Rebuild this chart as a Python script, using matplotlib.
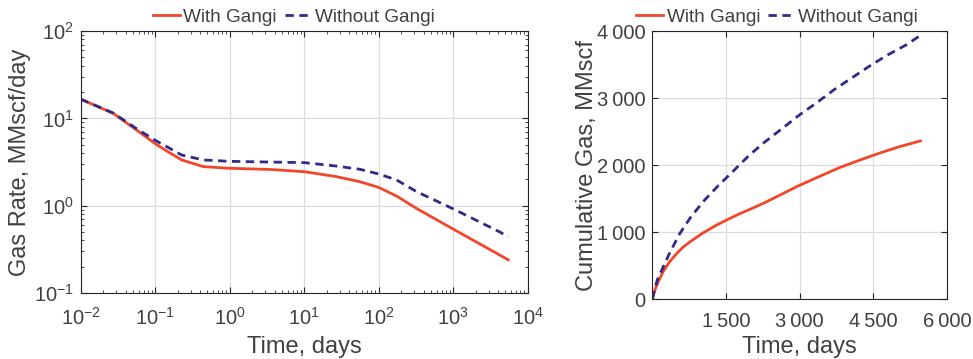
import numpy as np
import matplotlib
matplotlib.use('Agg')
import matplotlib.pyplot as plt
from matplotlib.ticker import LogLocator, NullFormatter

#--------------------------------
# rate vs time (log-log)
t_rate      = [0.01, 0.0274, 0.0564, 0.0984, 0.143, 0.227, 0.443, 1.0, 3.47, 10.1, 27.2, 56.0, 99.6, 174.0, 322.0, 1000.0, 4227.0, 5475.0]
q_gangi     = [16.6, 11.4, 7.35, 5.18, 4.23, 3.34, 2.80, 2.68, 2.60, 2.45, 2.15, 1.88, 1.62, 1.29, 0.93, 0.54, 0.272, 0.240]
q_no_gangi  = [16.6, 11.5, 7.6, 5.65, 4.74, 3.80, 3.34, 3.22, 3.16, 3.11, 2.84, 2.61, 2.31, 1.97, 1.45, 0.92, 0.50, 0.44]

# cumulative gas vs time (linear)
t_cum_g     = [0, 54, 121, 222, 357, 491, 626, 828, 1030, 1299, 1501, 1770, 2039, 2308, 2608, 2948, 3419, 3824, 4230, 4635, 5040, 5460]
g_gangi     = [0, 135, 260, 410, 560, 675, 775, 885, 985, 1100, 1175, 1270, 1355, 1445, 1555, 1680, 1835, 1965, 2075, 2180, 2275, 2360]
t_cum_n     = [0, 101, 336, 545, 794, 1063, 1333, 1649, 1972, 2275, 2600, 3000, 3338, 3703, 4081, 4419, 4784, 5162, 5460]
g_no_gangi  = [0, 285, 660, 960, 1235, 1475, 1685, 1910, 2145, 2335, 2520, 2750, 2925, 3125, 3310, 3475, 3640, 3790, 3935]

xt_cum      = [1500, 3000, 4500, 6000]
xt_cum_lbl  = ['1\u2009500', '3\u2009000', '4\u2009500', '6\u2009000']
yt_cum      = [0, 1000, 2000, 3000, 4000]
yt_cum_lbl  = ['0', '1\u2009000', '2\u2009000', '3\u2009000', '4\u2009000']

RED  = '#f2462b'
BLUE = '#302a8a'
TXT  = '#404040'
DASH = (0, (3, 2))

#--------------------------------
plt.rcParams['font.family'] = ['Liberation Sans', 'DejaVu Sans']
plt.rcParams['mathtext.fontset'] = 'custom'
plt.rcParams['mathtext.rm'] = 'Liberation Sans'
plt.rcParams['mathtext.it'] = 'Liberation Sans'
plt.rcParams['text.color'] = TXT
plt.rcParams['axes.labelcolor'] = TXT
plt.rcParams['xtick.color'] = TXT
plt.rcParams['ytick.color'] = TXT
plt.rcParams['axes.edgecolor'] = '#262626'

def style_axes(ax, xpad) :
    ax.grid(True, which='major', color='#dcdcdc', lw=0.9)
    ax.set_axisbelow(True)
    ax.tick_params(which='both', direction='in', top=True, right=True, labelsize=14.5)
    ax.tick_params(which='major', length=4, color='#262626')
    ax.tick_params(which='minor', length=2, color='#262626')
    ax.tick_params(axis='x', pad=xpad)
    ax.tick_params(axis='y', pad=5)

def add_legend(ax, x, y) :
    ax.legend(loc='center', bbox_to_anchor=(x, y), ncol=2, frameon=False,
              fontsize=13.7, handlelength=1.4, handletextpad=0.2, columnspacing=0.4,
              borderaxespad=0.0, borderpad=0.0)

fig = plt.figure(figsize=(9.73, 3.59), dpi=100, facecolor='w')

#--------------------------------
ax1 = fig.add_axes([0.0829, 0.1838, 0.4594, 0.7298])
ax1.plot(t_rate, q_gangi, color=RED, lw=2.0, label='With Gangi')
ax1.plot(t_rate, q_no_gangi, color=BLUE, lw=2.0, ls=DASH, label='Without Gangi')
ax1.set_xscale('log')
ax1.set_yscale('log')
ax1.set_xlim(1e-2, 1e4)
ax1.set_ylim(1e-1, 1e2)
ax1.xaxis.set_minor_locator(LogLocator(base=10, subs=np.arange(2, 10), numticks=20))
ax1.yaxis.set_minor_locator(LogLocator(base=10, subs=np.arange(2, 10), numticks=20))
ax1.xaxis.set_minor_formatter(NullFormatter())
ax1.yaxis.set_minor_formatter(NullFormatter())
ax1.set_xlabel('Time, days', fontsize=17)
ax1.set_ylabel('Gas Rate, MMscf/day', fontsize=17)
ax1.xaxis.set_label_coords(0.5, -0.164)
ax1.yaxis.set_label_coords(-0.111, 0.5)
style_axes(ax1, 10)
add_legend(ax1, 0.477, 1.053)

#--------------------------------
ax2 = fig.add_axes([0.6704, 0.1671, 0.3029, 0.7465])
ax2.plot(t_cum_g, g_gangi, color=RED, lw=2.0, label='With Gangi')
ax2.plot(t_cum_n, g_no_gangi, color=BLUE, lw=2.0, ls=DASH, label='Without Gangi')
ax2.set_xlim(0, 6000)
ax2.set_ylim(0, 4000)
ax2.set_xticks(xt_cum)
ax2.set_xticklabels(xt_cum_lbl)
ax2.set_yticks(yt_cum)
ax2.set_yticklabels(yt_cum_lbl)
ax2.set_xlabel('Time, days', fontsize=17)
ax2.set_ylabel('Cumulative Gas, MMscf', fontsize=17)
ax2.xaxis.set_label_coords(0.5, -0.138)
ax2.yaxis.set_label_coords(-0.184, 0.5)
style_axes(ax2, 9)
add_legend(ax2, 0.423, 1.052)

fig.savefig('out.png', dpi=100)
